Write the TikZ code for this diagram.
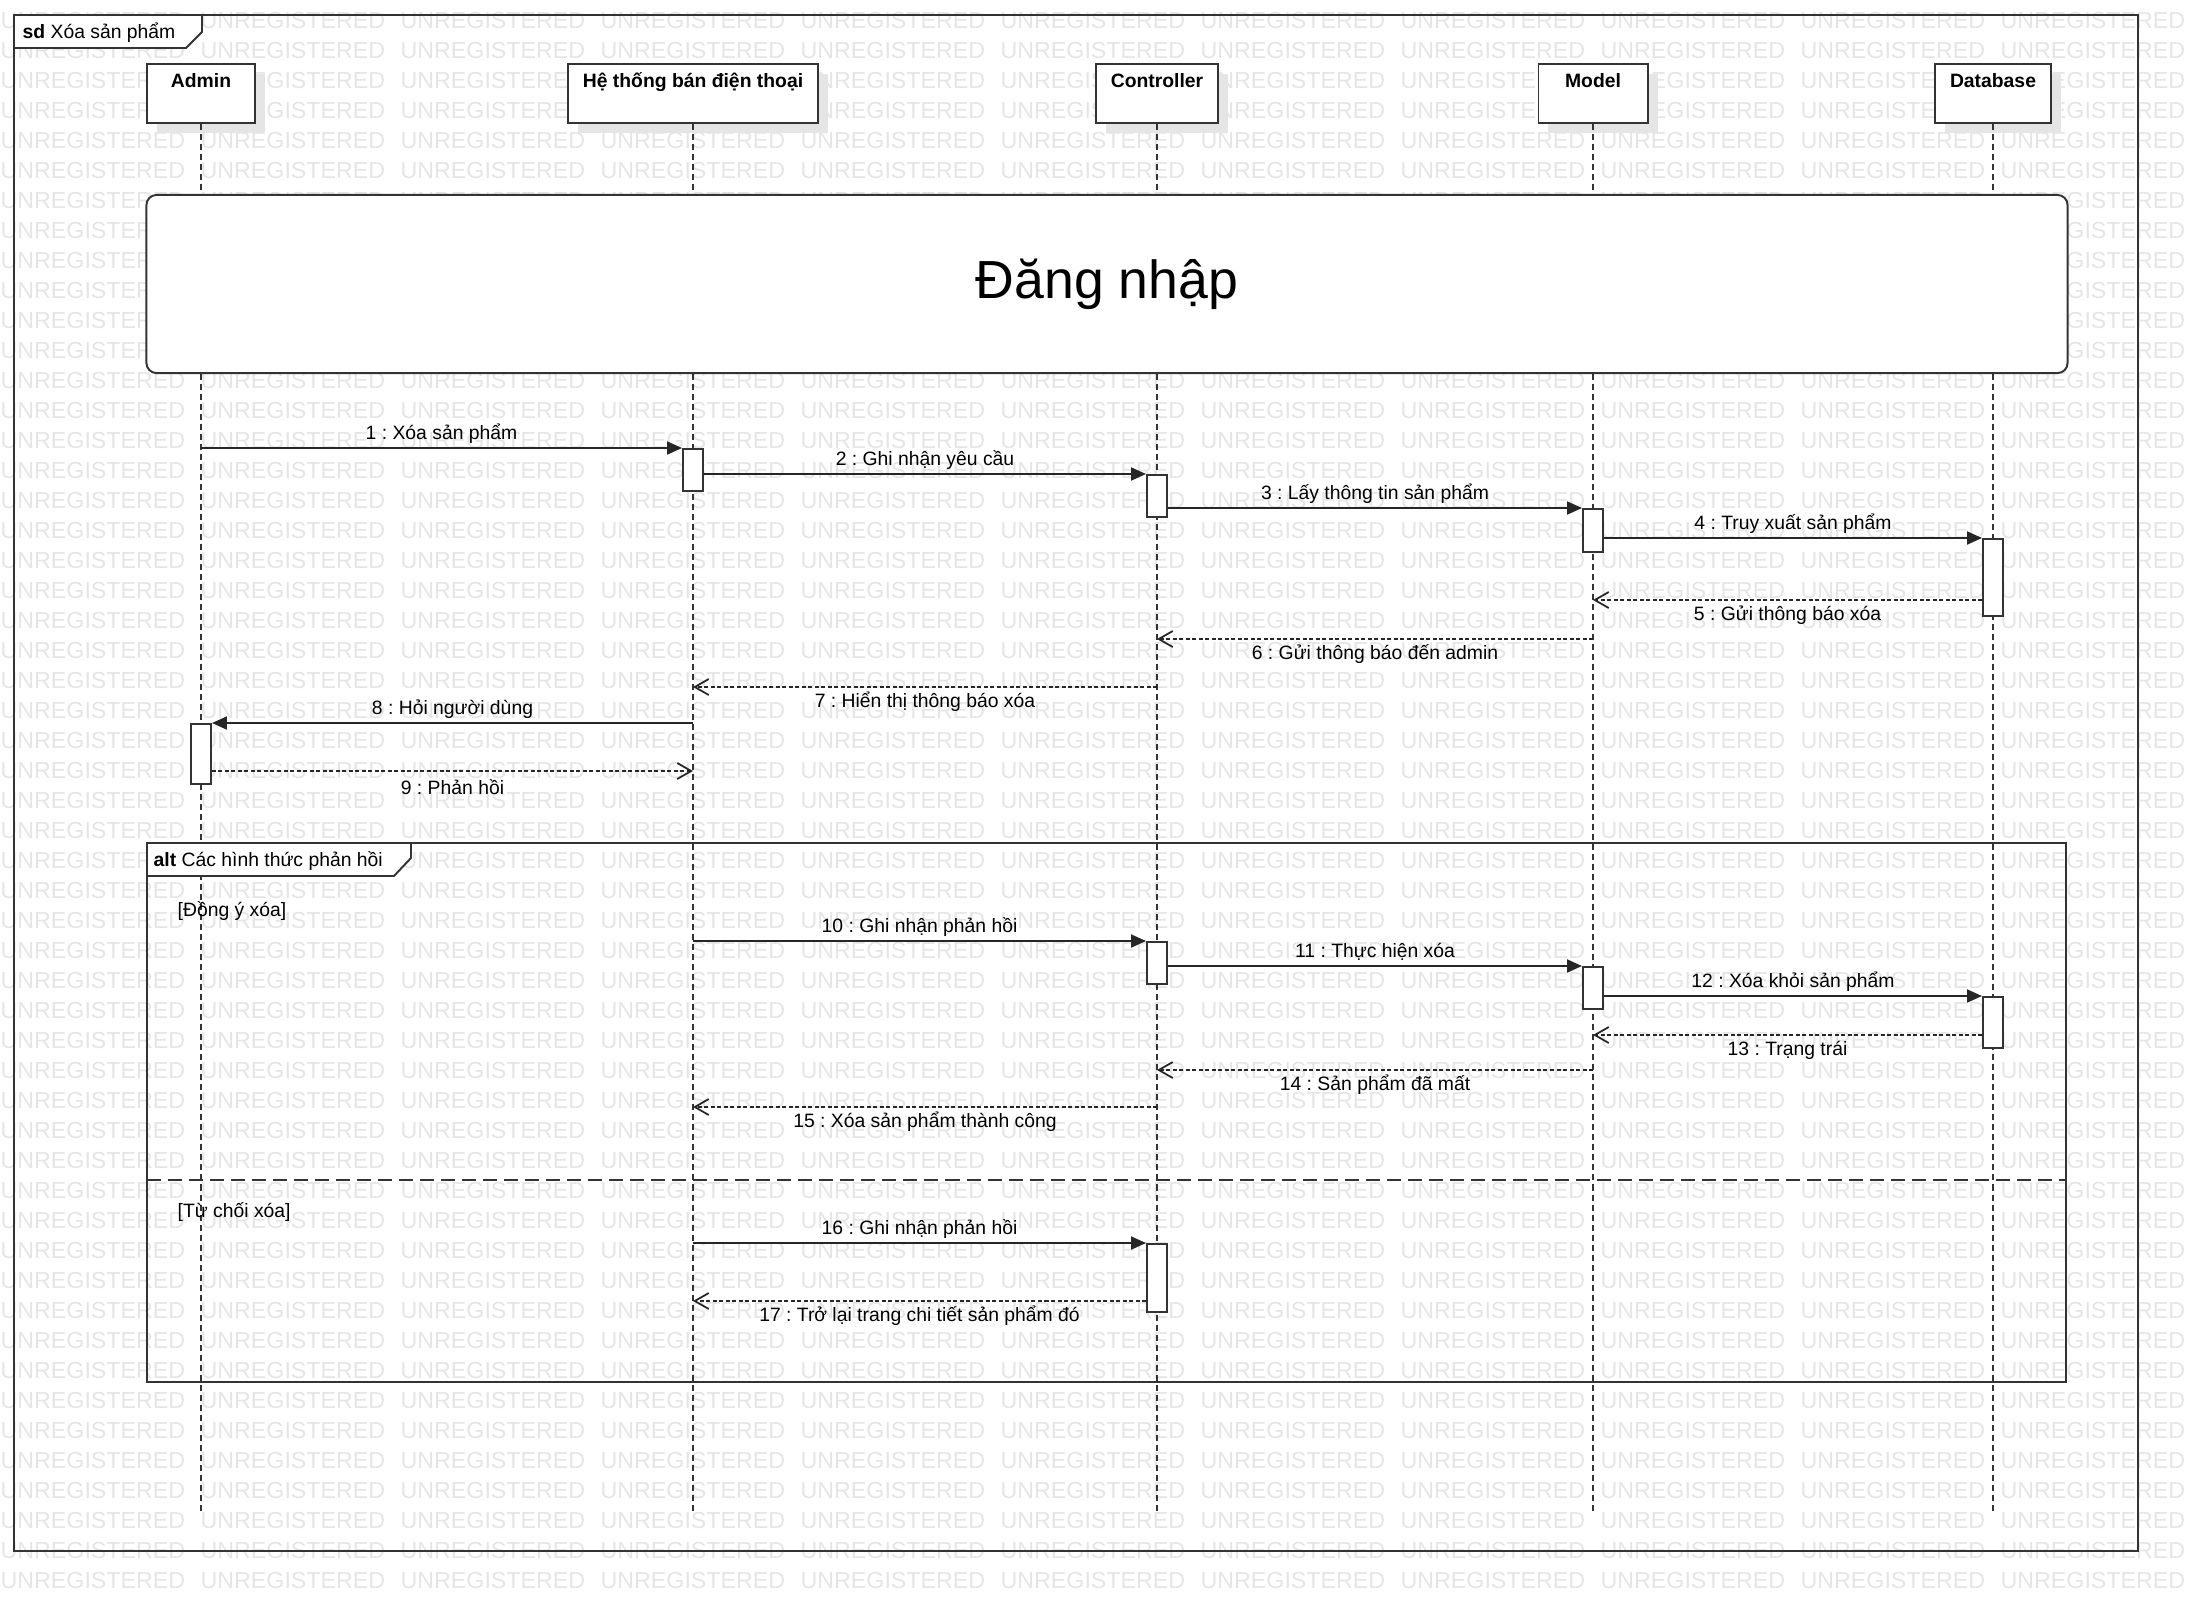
\documentclass[tikz,border=0pt]{standalone}
\usepackage{fontspec}
\setmainfont{Liberation Sans}
\usetikzlibrary{arrows.meta, positioning, shadows}
\frenchspacing
\definecolor{wmgray}{gray}{0.9}
\definecolor{linegray}{gray}{0.2}
\newcommand{\msgfont}{\fontsize{5.5}{6.6}\selectfont}
\tikzstyle{head} = [draw=linegray, fill=white, rectangle, line width=0.55pt, anchor=north, minimum height=0.59cm, inner ysep=0pt, text height=0.24cm, text depth=0.35cm, font=\msgfont\bfseries, general shadow={fill=wmgray, shadow xshift=0.1cm, shadow yshift=-0.1cm}]
\tikzstyle{act} = [draw=linegray, fill=white, rectangle, line width=0.55pt, anchor=north, minimum width=0.2cm, inner sep=0pt]
\tikzstyle{lifeline} = [draw=linegray, line width=0.3pt, dash pattern=on 0.06cm off 0.04cm]
\tikzstyle{frame} = [draw=linegray, line width=0.55pt]
\tikzstyle{tag} = [anchor=base west, inner sep=0pt, font=\msgfont]
\tikzstyle{call} = [draw=black!85, line width=0.55pt, -{Triangle[length=0.15cm, width=0.13cm]}]
\tikzstyle{reply} = [draw=black!85, line width=0.5pt, dash pattern=on 0.04cm off 0.025cm, -{Straight Barb[length=0.14cm, width=0.16cm]}]
\tikzstyle{lblup} = [midway, anchor=base, yshift=0.09cm, font=\msgfont]
\tikzstyle{lbldown} = [midway, anchor=base, yshift=-0.2cm, font=\msgfont]
\tikzstyle{wm} = [anchor=base west, inner sep=0pt, text=wmgray, font=\fontsize{6.6}{8}\selectfont]

\begin{document}
\begin{tikzpicture}[x=0.01cm, y=-0.01cm]
    \useasboundingbox (0,0) rectangle (2199,1611);
    % watermark
    \foreach \r in {0,...,52} {
        \foreach \c in {0,...,10} {
            \node[wm] at (\c*200, 28+\r*30) {UNREGISTERED};
        }
    }
    % frame
    \draw[frame] (14,15) rectangle (2138,1551);
    \draw[frame, fill=white] (14,15) -- (202,15) -- (202,32) -- (186,48) -- (14,48) -- cycle;
    \node[tag] (sdlabel) at (22,38) {\textbf{sd} Xóa sản phẩm};
    % lifelines
    \node[head, minimum width=1.08cm] (admin) at (201,63) {Admin};
    \node[head, minimum width=2.5cm] (hethong) at (693,63) {Hệ thống bán điện thoại};
    \node[head, minimum width=1.22cm] (controller) at (1157,63) {Controller};
    \node[head, minimum width=1.09cm] (model) at (1593,63) {Model};
    \node[head, minimum width=1.16cm] (database) at (1993,63) {Database};
    \coordinate (lifeend) at (0,1513);
    \foreach \n in {admin, hethong, controller, model, database}
        \draw[lifeline] (\n.south) -- (\n.south |- lifeend);
    \node[draw=linegray, fill=white, line width=0.55pt, rounded corners=0.1cm, minimum width=19.2cm, minimum height=1.78cm, font=\fontsize{15.25}{18}\selectfont] (login) at (1107,284) {Đăng nhập};
    % activations
    \node[act, minimum height=0.42cm] (h1) at (693,448) {};
    \node[act, minimum height=0.42cm] (c1) at (1157,474) {};
    \node[act, minimum height=0.43cm] (m1) at (1593,508) {};
    \node[act, minimum height=0.77cm] (d1) at (1993,538) {};
    \node[act, minimum height=0.6cm] (a1) at (201,723) {};
    \node[act, minimum height=0.42cm] (c2) at (1157,941) {};
    \node[act, minimum height=0.42cm] (m2) at (1593,966) {};
    \node[act, minimum height=0.51cm] (d2) at (1993,996) {};
    \node[act, minimum height=0.68cm] (c3) at (1157,1243) {};
    % messages
    \draw[call] (admin |- h1.north) -- node[lblup] {1 : Xóa sản phẩm} (h1.north west);
    \draw[call] (h1.east |- c1.north) -- node[lblup] {2 : Ghi nhận yêu cầu} (c1.north west);
    \draw[call] (c1.east |- m1.north) -- node[lblup] {3 : Lấy thông tin sản phẩm} (m1.north west);
    \draw[call] (m1.east |- d1.north) -- node[lblup] {4 : Truy xuất sản phẩm} (d1.north west);
    \draw[reply] (d1.west |- 0,600) -- node[lbldown] {5 : Gửi thông báo xóa} (model |- 0,600);
    \draw[reply] (model |- 0,639) -- node[lbldown] {6 : Gửi thông báo đến admin} (controller |- 0,639);
    \draw[reply] (controller |- 0,687) -- node[lbldown] {7 : Hiển thị thông báo xóa} (hethong |- 0,687);
    \draw[call] (hethong |- a1.north) -- node[lblup] {8 : Hỏi người dùng} (a1.north east);
    \draw[reply] (a1.east |- 0,771) -- node[lbldown, yshift=-0.03cm] {9 : Phản hồi} (hethong |- 0,771);
    % alt
    \draw[frame] (147,843) rectangle (2066,1382);
    \draw[frame, fill=white] (147,843) -- (411,843) -- (411,858) -- (394,876) -- (147,876) -- cycle;
    \node[tag] (altlabel) at (153,866) {\textbf{alt} Các hình thức phản hồi};
    \node[tag] (agree) at (177,916) {[Đồng ý xóa]};
    \draw[frame, dash pattern=on 0.14cm off 0.07cm] (147,1180) -- (2066,1180);
    \node[tag] (refuse) at (177,1217) {[Từ chối xóa]};
    \draw[call] (hethong |- c2.north) -- node[lblup] {10 : Ghi nhận phản hồi} (c2.north west);
    \draw[call] (c2.east |- m2.north) -- node[lblup] {11 : Thực hiện xóa} (m2.north west);
    \draw[call] (m2.east |- d2.north) -- node[lblup] {12 : Xóa khỏi sản phẩm} (d2.north west);
    \draw[reply] (d2.west |- 0,1035) -- node[lbldown] {13 : Trạng trái} (model |- 0,1035);
    \draw[reply] (model |- 0,1070) -- node[lbldown] {14 : Sản phẩm đã mất} (controller |- 0,1070);
    \draw[reply] (controller |- 0,1107) -- node[lbldown] {15 : Xóa sản phẩm thành công} (hethong |- 0,1107);
    \draw[call] (hethong |- c3.north) -- node[lblup] {16 : Ghi nhận phản hồi} (c3.north west);
    \draw[reply] (c3.west |- 0,1301) -- node[lbldown] {17 : Trở lại trang chi tiết sản phẩm đó} (hethong |- 0,1301);
\end{tikzpicture}
\end{document}
